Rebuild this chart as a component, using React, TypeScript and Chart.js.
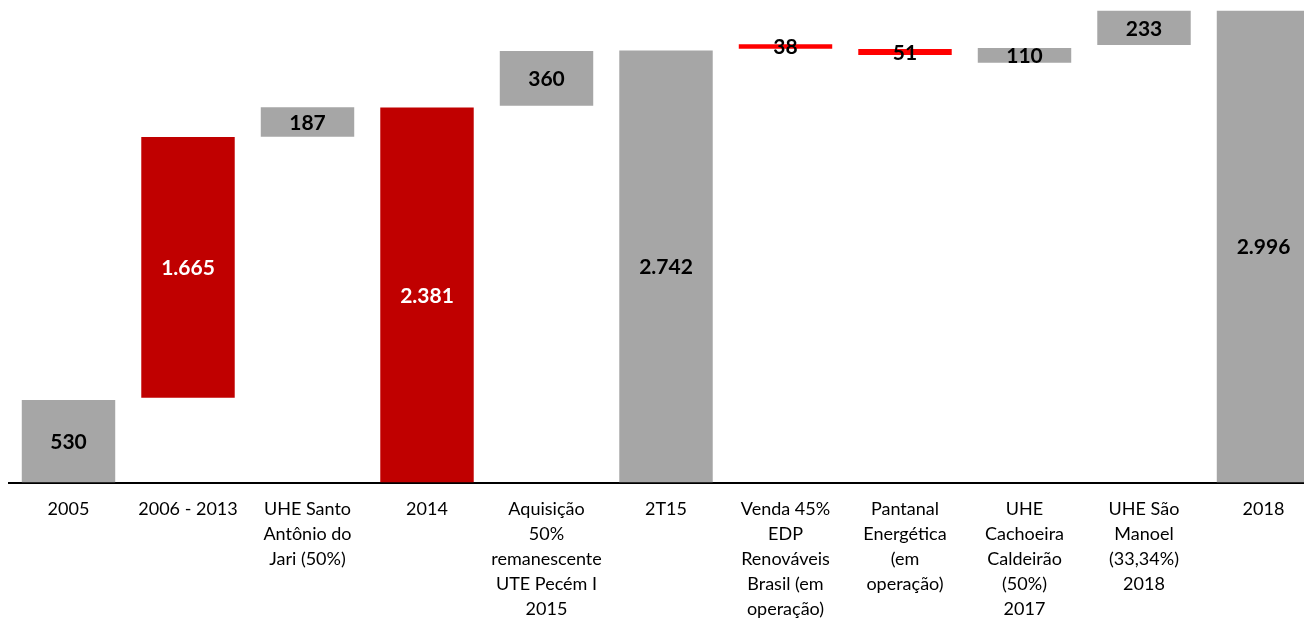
import React, { useEffect, useRef } from "react";
import { Chart, registerables } from "chart.js";

Chart.register(...registerables);

const categories: (string | string[])[] = [
  "2005",
  "2006 - 2013",
  ["UHE Santo", "Antônio do", "Jari (50%)"],
  "2014",
  ["Aquisição", "50%", "remanescente", "UTE Pecém I", "2015"],
  "2T15",
  ["Venda 45%", "EDP", "Renováveis", "Brasil (em", "operação)"],
  ["Pantanal", "Energética", "(em", "operação)"],
  ["UHE", "Cachoeira", "Caldeirão", "(50%)", "2017"],
  ["UHE São", "Manoel", "(33,34%)", "2018"],
  "2018",
];

// Displayed values
const labelValues = [530, 1665, 187, 2381, 360, 2742, 38, 51, 110, 233, 2996];
// Floating bar extents
const barLow = [0, 538, 2195, 0, 2392, 0, 2754, 2714, 2665, 2778, 0];
const barHigh = [524, 2194, 2382, 2381, 2740, 2742, 2782, 2752, 2759, 2996, 2996];
const barColors = [
  "#A6A6A6", "#C00000", "#A6A6A6", "#C00000", "#A6A6A6", "#A6A6A6",
  "#FF0000", "#FF0000", "#A6A6A6", "#A6A6A6", "#A6A6A6",
];
const labelColors = [
  "#000000", "#FFFFFF", "#000000", "#FFFFFF", "#000000", "#000000",
  "#000000", "#000000", "#000000", "#000000", "#000000",
];

const FONT = "Lato, 'Open Sans', sans-serif";

function fmt(n: number): string {
  return String(n).replace(/\B(?=(\d{3})+(?!\d))/g, ".");
}

const labelPlugin = {
  id: "barLabels",
  afterDatasetsDraw(chart: any) {
    const ctx = chart.ctx;
    const meta = chart.getDatasetMeta(0);
    ctx.save();
    ctx.font = `bold 21px ${FONT}`;
    ctx.textAlign = "center";
    ctx.textBaseline = "middle";
    meta.data.forEach((el: any, i: number) => {
      const y = (el.y + el.base) / 2;
      ctx.fillStyle = labelColors[i];
      ctx.fillText(fmt(labelValues[i]), el.x, y + 1);
    });
    ctx.restore();
  },
};

export default function App() {
  const ref = useRef<HTMLCanvasElement | null>(null);
  useEffect(() => {
    if (!ref.current) return;
    const chart = new Chart(ref.current, {
      type: "bar",
      data: {
        labels: categories as any,
        datasets: [
          {
            data: barLow.map((l, i) => [l, barHigh[i]]) as any,
            backgroundColor: barColors,
            borderWidth: 0,
            categoryPercentage: 1,
            barPercentage: 0.782,
          },
        ],
      },
      options: {
        responsive: false,
        animation: false,
        layout: { padding: { top: 2.6, left: 0.75, right: 0.75, bottom: 0 } },
        plugins: {
          legend: { display: false },
          tooltip: { enabled: false },
        },
        scales: {
          x: {
            grid: { display: false, drawTicks: false },
            border: { display: true, color: "#000000", width: 2 },
            ticks: {
              color: "#000000",
              padding: 14,
              maxRotation: 0,
              autoSkip: false,
              font: { family: FONT, size: 18, lineHeight: "25px" },
            },
            afterFit: (scale: any) => {
              scale.height = 135.5;
            },
          },
          y: {
            display: false,
            min: 0,
            max: 2996,
          },
        },
      },
      plugins: [labelPlugin],
    });
    return () => chart.destroy();
  }, []);

  return (
    <div style={{ width: 1304, height: 610, overflow: "hidden", position: "relative" }}>
      <canvas ref={ref} width={1316} height={610} style={{ display: "block", width: 1316, height: 610 }} />
    </div>
  );
}
